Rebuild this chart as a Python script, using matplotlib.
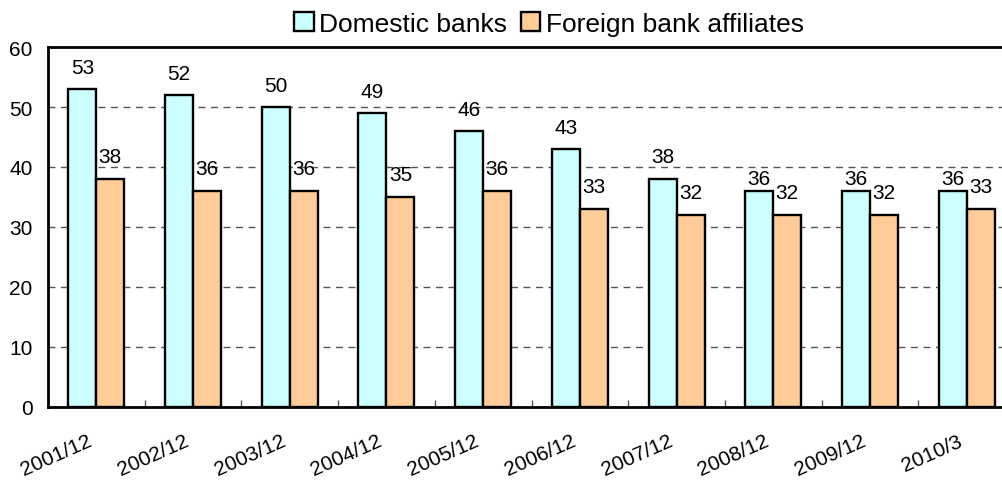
import matplotlib
matplotlib.use("Agg")
import matplotlib.pyplot as plt
from matplotlib.transforms import ScaledTranslation
import numpy as np

plt.rcParams['font.family'] = ['Liberation Sans', 'DejaVu Sans']

categories = ["2001/12", "2002/12", "2003/12", "2004/12", "2005/12",
              "2006/12", "2007/12", "2008/12", "2009/12", "2010/3"]
domestic = [53, 52, 50, 49, 46, 43, 38, 36, 36, 36]
foreign = [38, 36, 36, 35, 36, 33, 32, 32, 32, 33]

fig = plt.figure(figsize=(10.03, 4.81), dpi=100)
ax = fig.add_axes([48/1003, 73/481, 967/1003, 360/481])

x = np.arange(len(categories)) + 0.5
w = 0.29
b1 = ax.bar(x - w/2, domestic, w, color='#CCFFFF', edgecolor='black', linewidth=1.7, label='Domestic banks', zorder=3)
b2 = ax.bar(x + w/2, foreign, w, color='#FFCC99', edgecolor='black', linewidth=1.7, label='Foreign bank affiliates', zorder=3)

for xi, v, f in zip(x - w/2, domestic, foreign):
    off = 2 if v - f <= 4 else 9
    ax.annotate(str(v), (xi, v), xytext=(0, off), textcoords='offset points', ha='center', va='bottom', fontsize=15)
for xi, v in zip(x + w/2, foreign):
    ax.annotate(str(v), (xi, v), xytext=(0, 9), textcoords='offset points', ha='center', va='bottom', fontsize=15)

ax.set_xlim(0, len(categories))
ax.set_ylim(0, 60)
ax.set_yticks(range(0, 61, 10))
ax.tick_params(axis='y', length=0, labelsize=15, pad=11)
ax.set_xticks(np.arange(1, len(categories)))
ax.set_xticklabels([])
ax.tick_params(axis='x', direction='in', length=5, width=1, color='#555555')
ax.set_xticks(x, minor=True)
ax.set_xticklabels(categories, minor=True, rotation=24, ha='right', va='baseline',
                   rotation_mode='anchor', fontsize=15)
ax.tick_params(axis='x', which='minor', length=0, pad=27)
for lbl in ax.get_xticklabels(minor=True):
    lbl.set_transform(lbl.get_transform() + ScaledTranslation(-3/100, 0, fig.dpi_scale_trans))

for y in range(10, 60, 10):
    ax.axhline(y, color='#555555', linestyle=(0, (5, 4)), linewidth=1, zorder=1)

for s in ax.spines.values():
    s.set_linewidth(2)
    s.set_color('black')

leg = fig.legend(handles=[b1, b2], loc='center', bbox_to_anchor=(549/1003, 1 - 25/481), ncol=2,
                 frameon=False, fontsize=19, handlelength=0.75, handleheight=0.75,
                 handletextpad=0.2, columnspacing=0.5, borderaxespad=0)

fig.savefig('out.png', dpi=100)
